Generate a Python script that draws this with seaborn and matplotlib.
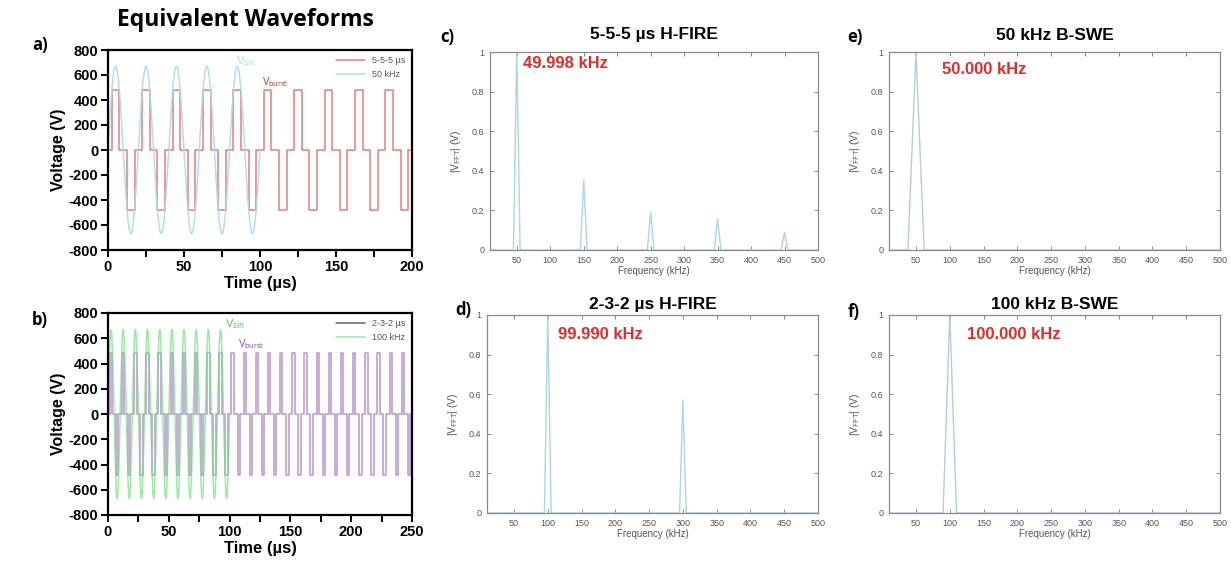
import numpy as np
import pandas as pd
import matplotlib
matplotlib.use("Agg")
import matplotlib.pyplot as plt
import seaborn as sns
from matplotlib.ticker import MultipleLocator

# ---------------- data ----------------
# panel a: 5-5-5 us H-FIRE burst vs 50 kHz sine
a_pulse_on_us = 5
a_pulse_gap_us = 5
a_pulse_amp_v = 480
a_pulse_end_us = 200
a_sine_freq_khz = 50
a_sine_amp_v = 670
a_sine_end_us = 100
a_labels = ["5-5-5 µs", "50 kHz"]

# panel b: 2-3-2 us H-FIRE burst vs 100 kHz sine
b_pulse_on_us = 2
b_pulse_gap_us = 3
b_pulse_amp_v = 480
b_pulse_end_us = 250
b_sine_freq_khz = 100
b_sine_amp_v = 670
b_sine_end_us = 100
b_labels = ["2-3-2 µs", "100 kHz"]

voltage_ticks = [-800, -600, -400, -200, 0, 200, 400, 600, 800]

# FFT spectra (normalised magnitude)
c_peaks_khz = [50, 150, 250, 350, 450]
c_peak_mag = [1.0, 0.35, 0.19, 0.155, 0.09]
c_half_width = 5
d_peaks_khz = [100, 300]
d_peak_mag = [1.0, 0.57]
d_half_width = 5
e_peaks_khz = [50]
e_peak_mag = [1.0]
e_half_width = 12
f_peaks_khz = [100]
f_peak_mag = [1.0]
f_half_width = 10

freq_range = [10, 500]
freq_ticks = [50, 100, 150, 200, 250, 300, 350, 400, 450, 500]
mag_ticks = [0, 0.2, 0.4, 0.6, 0.8, 1]
mag_tick_labels = ["0", "0.2", "0.4", "0.6", "0.8", "1"]

fft_titles = {"c": "5-5-5 µs H-FIRE", "d": "2-3-2 µs H-FIRE",
              "e": "50 kHz B-SWE", "f": "100 kHz B-SWE"}
fft_peak_text = {"c": "49.998 kHz", "d": "99.990 kHz",
                 "e": "50.000 kHz", "f": "100.000 kHz"}


# ---------------- helpers ----------------
def burst_frame(on, gap, amp, end):
    period = 2 * (on + gap)
    t, v = [], []
    t0 = 0.0
    while t0 < end - 1e-9:
        s1 = t0 + gap / 2
        s2 = s1 + on
        s3 = s2 + gap
        s4 = s3 + on
        t += [t0, s1, s1, s2, s2, s3, s3, s4, s4]
        v += [0, 0, amp, amp, 0, 0, -amp, -amp, 0]
        t0 += period
    t.append(end)
    v.append(0)
    return pd.DataFrame({"t": t, "v": v})


def sine_frame(freq_khz, amp, end):
    t = np.linspace(0, end, 3000)
    return pd.DataFrame({"t": t, "v": amp * np.sin(2 * np.pi * freq_khz * t / 1000.0)})


def spectrum_frame(peaks, mags, hw):
    f, m = [freq_range[0]], [0.0]
    for p, h in zip(peaks, mags):
        f += [p - hw, p, p + hw]
        m += [0.0, h, 0.0]
    f.append(freq_range[1])
    m.append(0.0)
    return pd.DataFrame({"f": f, "m": m})


# ---------------- figure ----------------
sns.set_style("ticks")
plt.rcParams["font.family"] = ["Liberation Sans", "DejaVu Sans"]
plt.rcParams["axes.unicode_minus"] = False
plt.rcParams["text.color"] = "black"
plt.rcParams["axes.labelcolor"] = "black"
plt.rcParams["xtick.color"] = "black"
plt.rcParams["ytick.color"] = "black"

W, H = 1231, 569
fig = plt.figure(figsize=(W / 100, H / 100), dpi=100)


def box(l, t, r, b):
    return [l / W, 1 - b / H, (r - l) / W, (b - t) / H]


ax_a = fig.add_axes(box(108, 50, 412, 250))
ax_b = fig.add_axes(box(108, 313, 412, 515))
ax_c = fig.add_axes(box(490, 52, 818, 250))
ax_d = fig.add_axes(box(487, 315, 818, 513))
ax_e = fig.add_axes(box(889, 52, 1220, 250))
ax_f = fig.add_axes(box(889, 315, 1220, 513))

red = "#e97a7c"
blue = "#a6dcef"
green = "#72e07f"
purple = "#a273c4"


def style_wave(ax, xmax, xstep):
    ax.set_xlim(0, xmax)
    ax.set_ylim(-800, 800)
    ax.set_yticks(voltage_ticks)
    ax.xaxis.set_major_locator(MultipleLocator(xstep))
    ax.xaxis.set_minor_locator(MultipleLocator(xstep / 2))
    for s in ax.spines.values():
        s.set_visible(True)
        s.set_linewidth(1.6)
        s.set_color("black")
    ax.tick_params(which="major", direction="out", length=5, width=1.4,
                   labelsize=10.5, pad=2, colors="black")
    ax.tick_params(which="minor", direction="out", length=5, width=1.4, colors="black")
    for lab in ax.get_xticklabels() + ax.get_yticklabels():
        lab.set_fontweight("bold")
    ax.set_xlabel("Time (µs)", fontsize=12, fontweight="bold", labelpad=2)
    ax.set_ylabel("Voltage (V)", fontsize=11.5, fontweight="bold", labelpad=2)


# panel a
df = burst_frame(a_pulse_on_us, a_pulse_gap_us, a_pulse_amp_v, a_pulse_end_us)
sns.lineplot(data=df, x="t", y="v", sort=False, estimator=None, ax=ax_a,
             color=red, lw=1.1, label=a_labels[0])
df = sine_frame(a_sine_freq_khz, a_sine_amp_v, a_sine_end_us)
sns.lineplot(data=df, x="t", y="v", sort=False, estimator=None, ax=ax_a,
             color=blue, lw=1.1, alpha=0.9, label=a_labels[1])
style_wave(ax_a, 200, 50)
ax_a.legend(loc="upper right", frameon=False, fontsize=6.5, handlelength=3.2,
            labelcolor="#555555", borderaxespad=0.3)
ax_a.text(84, 690, r"V$_{\mathrm{sin}}$", color=blue, fontsize=8)
ax_a.text(101, 520, r"V$_{\mathrm{burst}}$", color="#d0343a", fontsize=7)

# panel b
df = burst_frame(b_pulse_on_us, b_pulse_gap_us, b_pulse_amp_v, b_pulse_end_us)
sns.lineplot(data=df, x="t", y="v", sort=False, estimator=None, ax=ax_b,
             color=purple, lw=1.1, alpha=0.75, label=b_labels[0])
df = sine_frame(b_sine_freq_khz, b_sine_amp_v, b_sine_end_us)
sns.lineplot(data=df, x="t", y="v", sort=False, estimator=None, ax=ax_b,
             color=green, lw=1.1, alpha=0.7, label=b_labels[1])
style_wave(ax_b, 250, 50)
leg = ax_b.legend(loc="upper right", frameon=False, fontsize=6.5, handlelength=3.2,
                  labelcolor="#555555", borderaxespad=0.3)
leg.get_lines()[0].set_color("#666666")
leg.get_lines()[0].set_alpha(1)
ax_b.text(96, 690, r"V$_{\mathrm{sin}}$", color="#4ccf5c", fontsize=8)
ax_b.text(107, 530, r"V$_{\mathrm{burst}}$", color="#8a4fb8", fontsize=7)

# FFT panels
fft_axes = {"c": ax_c, "d": ax_d, "e": ax_e, "f": ax_f}
fft_data = {"c": (c_peaks_khz, c_peak_mag, c_half_width),
            "d": (d_peaks_khz, d_peak_mag, d_half_width),
            "e": (e_peaks_khz, e_peak_mag, e_half_width),
            "f": (f_peaks_khz, f_peak_mag, f_half_width)}
text_pos = {"c": (0.10, 0.94), "d": (0.215, 0.90), "e": (0.16, 0.91), "f": (0.236, 0.90)}
line_col = {"c": "#a9d6e8", "d": "#a9d6e8", "e": "#b7cbdc", "f": "#b7cbdc"}
title_pad = {"c": 9, "d": 4, "e": 9, "f": 4}

for key, ax in fft_axes.items():
    pk, mg, hw = fft_data[key]
    df = spectrum_frame(pk, mg, hw)
    sns.lineplot(data=df, x="f", y="m", sort=False, estimator=None, ax=ax,
                 color=line_col[key], lw=1.0)
    ax.set_xlim(*freq_range)
    ax.set_ylim(0, 1)
    ax.set_xticks(freq_ticks)
    ax.set_yticks(mag_ticks)
    ax.set_yticklabels(mag_tick_labels)
    for s in ax.spines.values():
        s.set_visible(True)
        s.set_linewidth(0.9)
        s.set_color("#8a8a8a")
    ax.tick_params(direction="in", length=3, width=0.7, colors="#8a8a8a",
                   labelcolor="#555555", labelsize=6.5, top=True, right=True, pad=4)
    ax.set_xlabel("Frequency (kHz)", fontsize=7, color="#555555", labelpad=1)
    ax.set_ylabel(r"|V$_{\mathrm{FFT}}$| (V)", fontsize=7.5, color="#555555", labelpad=6)
    ax.set_title(fft_titles[key], fontsize=12.5, fontweight="bold", pad=title_pad[key],
                 color="black")
    tx, ty = text_pos[key]
    ax.text(tx, ty, fft_peak_text[key], transform=ax.transAxes, color="#e52a2a",
            fontsize=12, fontweight="bold", ha="left", va="center")

# figure texts
fig.text(245 / W, 1 - 20 / H, "Equivalent Waveforms", fontsize=16.5, fontweight="bold",
         ha="center", va="center", family=["Open Sans", "DejaVu Sans"])
for lab, x, y in [("a)", 40, 45), ("b)", 40, 320), ("c)", 447, 37), ("d)", 463, 310),
                  ("e)", 855, 37), ("f)", 854, 312)]:
    fig.text(x / W, 1 - y / H, lab, fontsize=12, fontweight="bold", ha="center",
             va="center", family=["Open Sans", "DejaVu Sans"])

fig.savefig("out.png", dpi=100)
